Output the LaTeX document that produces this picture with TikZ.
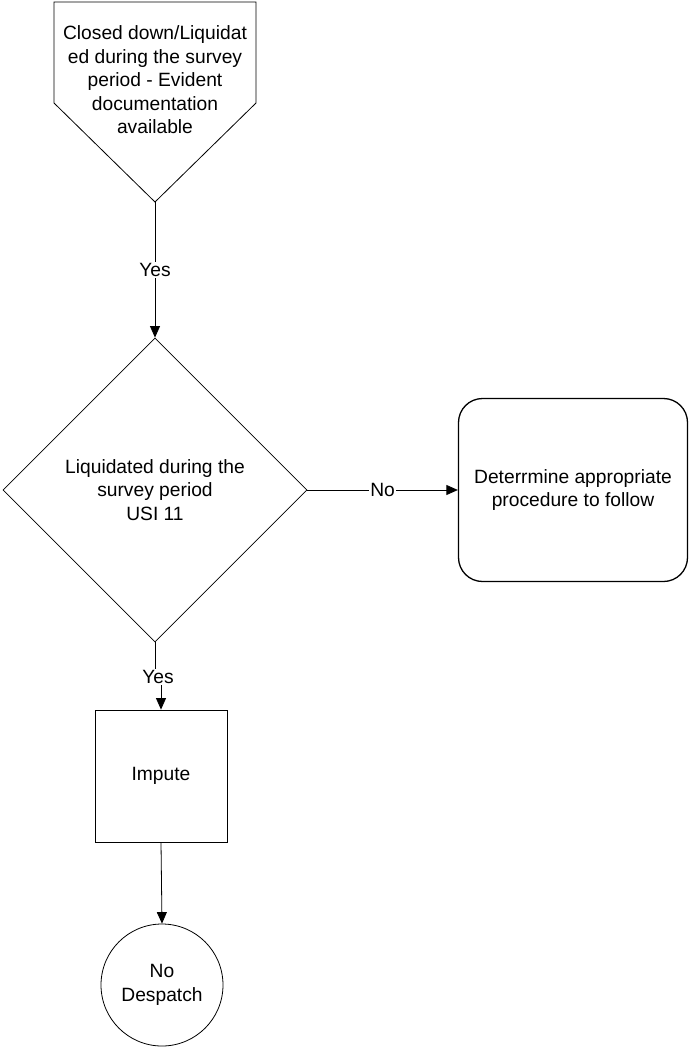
\documentclass[tikz,border=0pt]{standalone}
\usepackage{fontspec}
\setmainfont{Liberation Sans}
\usetikzlibrary{shapes.geometric,arrows.meta}
\begin{document}
\begin{tikzpicture}[x=1bp,y=-1bp,
  every node/.style={font=\fontsize{19.3}{23.6}\selectfont, align=center},
  shapeline/.style={draw=black, line width=0.8bp},
  flow/.style={line width=0.8bp, -{Triangle[length=11.5bp,width=10bp]}},
  edgelabel/.style={fill=white, inner sep=1.5bp},
  procbox/.style={shapeline, rectangle, inner sep=0pt},
  decision/.style={shapeline, diamond, inner sep=0pt, minimum width=304bp, minimum height=304bp},
  terminal/.style={shapeline, circle, inner sep=0pt, minimum size=122bp}]
\useasboundingbox (0,0) rectangle (689,1049);

% off-page connector at the top
\draw[shapeline, line join=miter] (54,2) -- (256,2) -- (256,103) -- (155,202) -- (54,103) -- cycle;
\node (closed) at (155,80) {Closed down/Liquidat\\ed during the survey\\ period - Evident\\documentation\\available};
\coordinate (closedtip) at (155,202);

% decision
\node[decision] (liq) at (155,490) {Liquidated during the\\survey period\\USI 11};

% rounded process box
\node[procbox, line width=1.3bp, rounded corners=24bp, minimum width=229bp, minimum height=183bp] (det) at (573,490)
  {Deterrmine appropriate\\procedure to follow};

% impute box
\node[procbox, minimum width=132bp, minimum height=132bp] (imp) at (161,776) {Impute};

% terminal
\node[terminal] (nod) at (162,985) {No\\Despatch};

% connectors
\draw[flow] (closedtip) -- node[edgelabel] (yes1) {Yes} (liq.north);
\draw[flow] (liq.east) -- node[edgelabel] (no1) {No} (det.west);
\coordinate (yesj) at (158,677);
\draw[flow] (liq.south) |- (yesj) -| (imp.north);
\node[edgelabel] (yes2) at (yesj) {Yes};
\draw[flow] (imp.south) -- (nod.north);
\end{tikzpicture}
\end{document}
